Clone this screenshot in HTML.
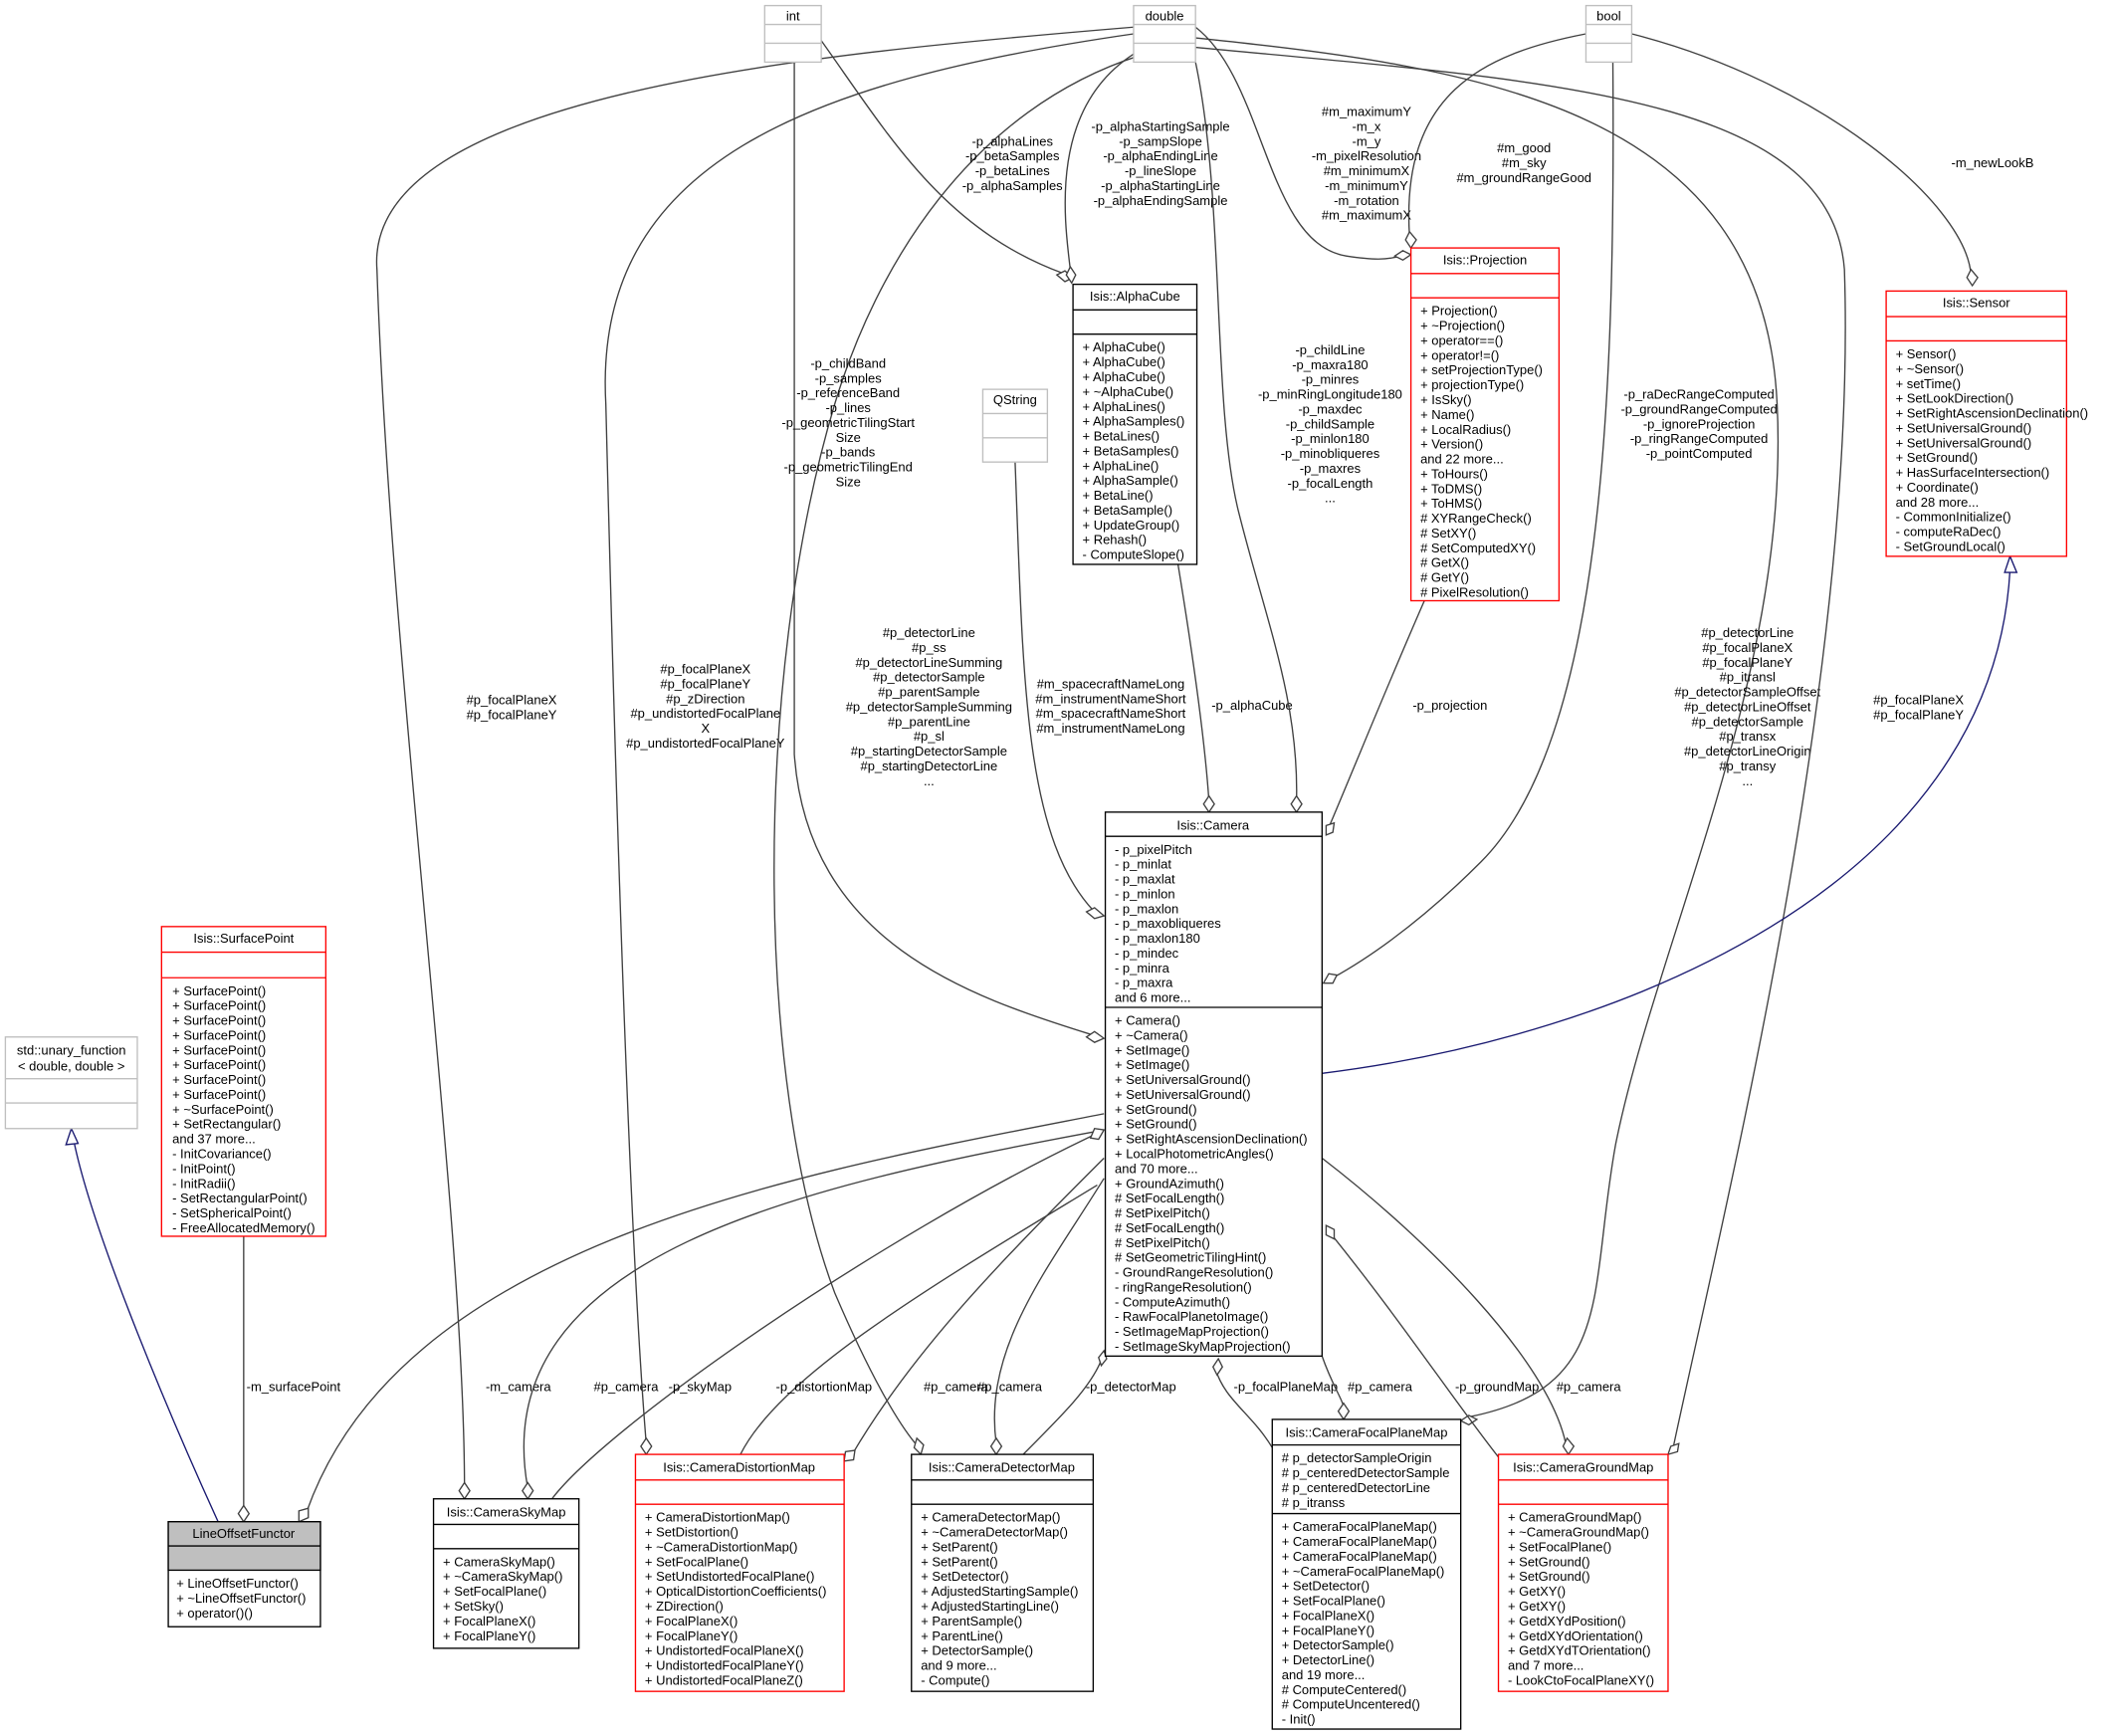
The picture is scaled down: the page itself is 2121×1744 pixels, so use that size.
<!DOCTYPE html>
<html><head><meta charset="utf-8"><style>
html,body{margin:0;padding:0;background:#fff;}
svg{display:block;}
text{font-family:"Liberation Sans",sans-serif;font-size:9.6px;fill:#000;}
.c{text-anchor:middle;}
.e{fill:none;stroke:#404040;stroke-width:1;}
.n{fill:none;stroke:#191970;stroke-width:1;}
.d{fill:#fff;stroke:#404040;stroke-width:1;}
.bk{fill:#fff;stroke:#000;stroke-width:1;}
.rd{fill:#fff;stroke:#ff0000;stroke-width:1;}
.gr{fill:#fff;stroke:#bfbfbf;stroke-width:1;}
</style></head><body>
<svg width="2121" height="1744" viewBox="0 0 1568 1289" xmlns="http://www.w3.org/2000/svg">
<rect width="1568" height="1289" fill="#fff"/>

<!-- edges -->
<g>
<path class="n" d="M162,1130 C130,1060 70,920 55,848"/>
<polygon points="53,838 49,850 58,849" fill="#fff" stroke="#191970"/>
<path class="e" d="M181,918 L181,1118"/>
<polygon class="d" points="181,1130 177,1124 181,1118 185,1124"/>
<text class="c" x="218" y="1033">-m_surfacePoint</text>
<path class="e" d="M820,827 C600,870 300,920 228,1122"/>
<polygon class="d" points="222,1130 222,1122 229,1120 229,1127"/>
<text class="c" x="385" y="1033">-m_camera</text>
<path class="e" d="M815,840 C600,880 360,930 392,1105"/>
<polygon class="d" points="392,1113 388,1107 392,1101 396,1107"/>
<text class="c" x="465" y="1033">#p_camera</text>
<path class="e" d="M410,1113 C450,1060 650,920 812,843"/>
<polygon class="d" points="820,839 813,838 810,845 816,846"/>
<text class="c" x="520" y="1033">-p_skyMap</text>
<path class="e" d="M842,20 C600,40 270,70 280,200 C290,500 345,900 345,1105"/>
<polygon class="d" points="345,1113 341,1107 345,1101 349,1107"/>
<text class="c" x="380" y="523">#p_focalPlaneX</text><text class="c" x="380" y="534">#p_focalPlaneY</text>
<path class="e" d="M842,25 C600,60 440,120 450,300 C460,700 470,950 480,1072"/>
<polygon class="d" points="480,1080 476,1074 480,1068 484,1074"/>
<g class="c"><text class="c" x="524" y="500">#p_focalPlaneX</text><text class="c" x="524" y="511">#p_focalPlaneY</text><text class="c" x="524" y="522">#p_zDirection</text><text class="c" x="524" y="533">#p_undistortedFocalPlane</text><text class="c" x="524" y="544">X</text><text class="c" x="524" y="555">#p_undistortedFocalPlaneY</text></g>
<path class="e" d="M550,1080 C580,1020 700,950 815,880"/>
<text class="c" x="612" y="1033">-p_distortionMap</text>
<path class="e" d="M820,860 C750,930 680,1000 633,1080"/>
<polygon class="d" points="627,1085 628,1078 635,1077 634,1084"/>
<text class="c" x="710" y="1033">#p_camera</text>
<path class="e" d="M850,40 C720,80 650,200 620,300 C560,500 560,800 620,960 C650,1030 670,1060 680,1072"/>
<polygon class="d" points="684,1080 679,1075 681,1068 686,1073"/>
<g><text class="c" x="690" y="473">#p_detectorLine</text><text class="c" x="690" y="484">#p_ss</text><text class="c" x="690" y="495">#p_detectorLineSumming</text><text class="c" x="690" y="506">#p_detectorSample</text><text class="c" x="690" y="517">#p_parentSample</text><text class="c" x="690" y="528">#p_detectorSampleSumming</text><text class="c" x="690" y="539">#p_parentLine</text><text class="c" x="690" y="550">#p_sl</text><text class="c" x="690" y="561">#p_startingDetectorSample</text><text class="c" x="690" y="572">#p_startingDetectorLine</text><text class="c" x="690" y="583">...</text></g>
<path class="e" d="M820,875 C780,940 730,1000 740,1072"/>
<polygon class="d" points="740,1080 736,1074 740,1068 744,1074"/>
<text class="c" x="750" y="1033">#p_camera</text>
<path class="e" d="M760,1080 C790,1050 810,1030 818,1010"/>
<polygon class="d" points="820,1003 816,1008 818,1014 822,1009"/>
<text class="c" x="840" y="1033">-p_detectorMap</text>
<path class="e" d="M590,46 L590,560 C600,700 720,740 810,768"/>
<polygon class="d" points="820,771 813,766 807,770 813,774"/>
<g><text class="c" x="630" y="273">-p_childBand</text><text class="c" x="630" y="284">-p_samples</text><text class="c" x="630" y="295">-p_referenceBand</text><text class="c" x="630" y="306">-p_lines</text><text class="c" x="630" y="317">-p_geometricTilingStart</text><text class="c" x="630" y="328">Size</text><text class="c" x="630" y="339">-p_bands</text><text class="c" x="630" y="350">-p_geometricTilingEnd</text><text class="c" x="630" y="361">Size</text></g>
<path class="e" d="M610,30 C660,100 700,170 790,203"/>
<polygon class="d" points="797,206 791,201 785,204 791,209"/>
<path class="e" d="M842,40 C780,80 790,160 795,200"/>
<polygon class="d" points="796,210 792,204 795,198 799,204"/>
<g><text class="c" x="752" y="108">-p_alphaLines</text><text class="c" x="752" y="119">-p_betaSamples</text><text class="c" x="752" y="130">-p_betaLines</text><text class="c" x="752" y="141">-p_alphaSamples</text></g>
<g><text class="c" x="862" y="97">-p_alphaStartingSample</text><text class="c" x="862" y="108">-p_sampSlope</text><text class="c" x="862" y="119">-p_alphaEndingLine</text><text class="c" x="862" y="130">-p_lineSlope</text><text class="c" x="862" y="141">-p_alphaStartingLine</text><text class="c" x="862" y="152">-p_alphaEndingSample</text></g>
<path class="e" d="M875,419 C885,480 895,550 898,595"/>
<polygon class="d" points="898,603 894,597 898,591 902,597"/>
<text class="c" x="930" y="527">-p_alphaCube</text>
<path class="e" d="M888,46 C910,150 900,300 920,380 C940,460 965,520 963,595"/>
<polygon class="d" points="963,603 959,597 963,591 967,597"/>
<g><text class="c" x="988" y="263">-p_childLine</text><text class="c" x="988" y="274">-p_maxra180</text><text class="c" x="988" y="285">-p_minres</text><text class="c" x="988" y="296">-p_minRingLongitude180</text><text class="c" x="988" y="307">-p_maxdec</text><text class="c" x="988" y="318">-p_childSample</text><text class="c" x="988" y="329">-p_minlon180</text><text class="c" x="988" y="340">-p_minobliqueres</text><text class="c" x="988" y="351">-p_maxres</text><text class="c" x="988" y="362">-p_focalLength</text><text class="c" x="988" y="373">...</text></g>
<path class="e" d="M754,343 C760,500 760,620 812,676"/>
<polygon class="d" points="820,680 813,674 807,677 813,682"/>
<g><text class="c" x="825" y="511">#m_spacecraftNameLong</text><text class="c" x="825" y="522">#m_instrumentNameShort</text><text class="c" x="825" y="533">#m_spacecraftNameShort</text><text class="c" x="825" y="544">#m_instrumentNameLong</text></g>
<path class="e" d="M1058,446 C1030,510 1010,560 988,612"/>
<polygon class="d" points="985,620 985,613 991,611 990,618"/>
<text class="c" x="1077" y="527">-p_projection</text>
<path class="e" d="M888,20 C940,60 940,180 1000,190 C1020,193 1030,193 1040,190"/>
<polygon class="d" points="1048,189 1042,186 1036,190 1042,193"/>
<g><text class="c" x="1015" y="86">#m_maximumY</text><text class="c" x="1015" y="97">-m_x</text><text class="c" x="1015" y="108">-m_y</text><text class="c" x="1015" y="119">-m_pixelResolution</text><text class="c" x="1015" y="130">#m_minimumX</text><text class="c" x="1015" y="141">-m_minimumY</text><text class="c" x="1015" y="152">-m_rotation</text><text class="c" x="1015" y="163">#m_maximumX</text></g>
<path class="e" d="M1178,25 C1100,40 1040,70 1047,176"/>
<polygon class="d" points="1048,184 1044,178 1047,172 1052,178"/>
<g><text class="c" x="1132" y="113">#m_good</text><text class="c" x="1132" y="124">#m_sky</text><text class="c" x="1132" y="135">#m_groundRangeGood</text></g>
<path class="e" d="M1198,46 C1200,300 1190,550 1100,640 C1050,690 1010,715 990,726"/>
<polygon class="d" points="983,730 990,730 993,724 987,723"/>
<g><text class="c" x="1262" y="296">-p_raDecRangeComputed</text><text class="c" x="1262" y="307">-p_groundRangeComputed</text><text class="c" x="1262" y="318">-p_ignoreProjection</text><text class="c" x="1262" y="329">-p_ringRangeComputed</text><text class="c" x="1262" y="340">-p_pointComputed</text></g>
<path class="e" d="M888,28 C1100,50 1310,80 1320,300 C1330,500 1230,700 1200,850 C1180,960 1200,1030 1092,1052"/>
<polygon class="d" points="1085,1055 1091,1058 1097,1054 1091,1051"/>
<g><text class="c" x="1298" y="473">#p_detectorLine</text><text class="c" x="1298" y="484">#p_focalPlaneX</text><text class="c" x="1298" y="495">#p_focalPlaneY</text><text class="c" x="1298" y="506">#p_itransl</text><text class="c" x="1298" y="517">#p_detectorSampleOffset</text><text class="c" x="1298" y="528">#p_detectorLineOffset</text><text class="c" x="1298" y="539">#p_detectorSample</text><text class="c" x="1298" y="550">#p_transx</text><text class="c" x="1298" y="561">#p_detectorLineOrigin</text><text class="c" x="1298" y="572">#p_transy</text><text class="c" x="1298" y="583">...</text></g>
<path class="e" d="M888,35 C1150,60 1360,70 1370,200 C1380,500 1280,900 1243,1074"/>
<polygon class="d" points="1239,1080 1241,1074 1247,1072 1246,1078"/>
<text class="c" x="1425" y="523">#p_focalPlaneX</text><text class="c" x="1425" y="534">#p_focalPlaneY</text>
<path class="e" d="M1212,25 C1350,60 1460,150 1464,204"/>
<polygon class="d" points="1465,212 1461,206 1464,200 1469,206"/>
<text class="c" x="1480" y="124">-m_newLookB</text>
<path class="n" d="M982,797 C1200,770 1480,660 1493,423"/>
<polygon points="1493,413 1489,425 1498,425" fill="#fff" stroke="#191970"/>
<path class="e" d="M903,1017 C910,1040 930,1050 945,1075"/>
<polygon class="d" points="905,1009 901,1015 904,1021 908,1015"/>
<text class="c" x="955" y="1033">-p_focalPlaneMap</text>
<path class="e" d="M982,1007 C990,1030 998,1040 998,1046"/>
<polygon class="d" points="998,1054 994,1048 998,1042 1002,1048"/>
<text class="c" x="1025" y="1033">#p_camera</text>
<path class="e" d="M990,918 C1040,980 1080,1040 1113,1082"/>
<polygon class="d" points="985,910 985,917 991,920 991,913"/>
<text class="c" x="1112" y="1033">-p_groundMap</text>
<path class="e" d="M982,860 C1060,920 1150,1010 1163,1072"/>
<polygon class="d" points="1165,1080 1161,1074 1164,1068 1169,1074"/>
<text class="c" x="1180" y="1033">#p_camera</text>
</g>

<!-- nodes -->
<!-- int -->
<rect class="gr" x="568" y="4" width="42" height="42"/><line x1="568" y1="18" x2="610" y2="18" stroke="#bfbfbf"/><line x1="568" y1="32" x2="610" y2="32" stroke="#bfbfbf"/>
<text class="c" x="589" y="15">int</text>
<!-- double -->
<rect class="gr" x="842" y="4" width="46" height="42"/><line x1="842" y1="18" x2="888" y2="18" stroke="#bfbfbf"/><line x1="842" y1="32" x2="888" y2="32" stroke="#bfbfbf"/>
<text class="c" x="865" y="15">double</text>
<!-- bool -->
<rect class="gr" x="1178" y="4" width="34" height="42"/><line x1="1178" y1="18" x2="1212" y2="18" stroke="#bfbfbf"/><line x1="1178" y1="32" x2="1212" y2="32" stroke="#bfbfbf"/>
<text class="c" x="1195" y="15">bool</text>
<!-- QString -->
<rect class="gr" x="730" y="289" width="48" height="54"/><line x1="730" y1="307" x2="778" y2="307" stroke="#bfbfbf"/><line x1="730" y1="325" x2="778" y2="325" stroke="#bfbfbf"/>
<text class="c" x="754" y="300">QString</text>
<!-- unary_function -->
<rect class="gr" x="4" y="770" width="98" height="68"/><line x1="4" y1="801" x2="102" y2="801" stroke="#bfbfbf"/><line x1="4" y1="819" x2="102" y2="819" stroke="#bfbfbf"/>
<text class="c" x="53" y="783">std::unary_function</text><text class="c" x="53" y="795">&lt; double, double &gt;</text>

<!-- LineOffsetFunctor -->
<rect x="125" y="1130" width="113" height="78" fill="#fff" stroke="#000"/>
<rect x="125" y="1130" width="113" height="36" fill="#bfbfbf" stroke="#000"/>
<line x1="125" y1="1148" x2="238" y2="1148" stroke="#000"/>
<text class="c" x="181" y="1142">LineOffsetFunctor</text>
<text x="131" y="1179">+ LineOffsetFunctor()</text><text x="131" y="1190">+ ~LineOffsetFunctor()</text><text x="131" y="1201">+ operator()()</text>

<!-- SurfacePoint -->
<rect class="rd" x="120" y="688" width="122" height="230"/><line x1="120" y1="707" x2="242" y2="707" stroke="red"/><line x1="120" y1="726" x2="242" y2="726" stroke="red"/>
<text class="c" x="181" y="700">Isis::SurfacePoint</text>
<g><text x="128" y="739">+ SurfacePoint()</text><text x="128" y="750">+ SurfacePoint()</text><text x="128" y="761">+ SurfacePoint()</text><text x="128" y="772">+ SurfacePoint()</text><text x="128" y="783">+ SurfacePoint()</text><text x="128" y="794">+ SurfacePoint()</text><text x="128" y="805">+ SurfacePoint()</text><text x="128" y="816">+ SurfacePoint()</text><text x="128" y="827">+ ~SurfacePoint()</text><text x="128" y="838">+ SetRectangular()</text><text x="128" y="849">and 37 more...</text><text x="128" y="860">- InitCovariance()</text><text x="128" y="871">- InitPoint()</text><text x="128" y="882">- InitRadii()</text><text x="128" y="893">- SetRectangularPoint()</text><text x="128" y="904">- SetSphericalPoint()</text><text x="128" y="915">- FreeAllocatedMemory()</text></g>

<!-- CameraSkyMap -->
<rect class="bk" x="322" y="1113" width="108" height="111"/><line x1="322" y1="1132" x2="430" y2="1132" stroke="#000"/><line x1="322" y1="1150" x2="430" y2="1150" stroke="#000"/>
<text class="c" x="376" y="1126">Isis::CameraSkyMap</text>
<g><text x="329" y="1163">+ CameraSkyMap()</text><text x="329" y="1174">+ ~CameraSkyMap()</text><text x="329" y="1185">+ SetFocalPlane()</text><text x="329" y="1196">+ SetSky()</text><text x="329" y="1207">+ FocalPlaneX()</text><text x="329" y="1218">+ FocalPlaneY()</text></g>

<!-- CameraDistortionMap -->
<rect class="rd" x="472" y="1080" width="155" height="176"/><line x1="472" y1="1099" x2="627" y2="1099" stroke="red"/><line x1="472" y1="1117" x2="627" y2="1117" stroke="red"/>
<text class="c" x="549" y="1093">Isis::CameraDistortionMap</text>
<g><text x="479" y="1130">+ CameraDistortionMap()</text><text x="479" y="1141">+ SetDistortion()</text><text x="479" y="1152">+ ~CameraDistortionMap()</text><text x="479" y="1163">+ SetFocalPlane()</text><text x="479" y="1174">+ SetUndistortedFocalPlane()</text><text x="479" y="1185">+ OpticalDistortionCoefficients()</text><text x="479" y="1196">+ ZDirection()</text><text x="479" y="1207">+ FocalPlaneX()</text><text x="479" y="1218">+ FocalPlaneY()</text><text x="479" y="1229">+ UndistortedFocalPlaneX()</text><text x="479" y="1240">+ UndistortedFocalPlaneY()</text><text x="479" y="1251">+ UndistortedFocalPlaneZ()</text></g>

<!-- CameraDetectorMap -->
<rect class="bk" x="677" y="1080" width="135" height="176"/><line x1="677" y1="1099" x2="812" y2="1099" stroke="#000"/><line x1="677" y1="1117" x2="812" y2="1117" stroke="#000"/>
<text class="c" x="744" y="1093">Isis::CameraDetectorMap</text>
<g><text x="684" y="1130">+ CameraDetectorMap()</text><text x="684" y="1141">+ ~CameraDetectorMap()</text><text x="684" y="1152">+ SetParent()</text><text x="684" y="1163">+ SetParent()</text><text x="684" y="1174">+ SetDetector()</text><text x="684" y="1185">+ AdjustedStartingSample()</text><text x="684" y="1196">+ AdjustedStartingLine()</text><text x="684" y="1207">+ ParentSample()</text><text x="684" y="1218">+ ParentLine()</text><text x="684" y="1229">+ DetectorSample()</text><text x="684" y="1240">and 9 more...</text><text x="684" y="1251">- Compute()</text></g>

<!-- CameraFocalPlaneMap -->
<rect class="bk" x="945" y="1054" width="140" height="230"/><line x1="945" y1="1073" x2="1085" y2="1073" stroke="#000"/><line x1="945" y1="1124" x2="1085" y2="1124" stroke="#000"/>
<text class="c" x="1015" y="1067">Isis::CameraFocalPlaneMap</text>
<g><text x="952" y="1086"># p_detectorSampleOrigin</text><text x="952" y="1097"># p_centeredDetectorSample</text><text x="952" y="1108"># p_centeredDetectorLine</text><text x="952" y="1119"># p_itranss</text>
<text x="952" y="1137">+ CameraFocalPlaneMap()</text><text x="952" y="1148">+ CameraFocalPlaneMap()</text><text x="952" y="1159">+ CameraFocalPlaneMap()</text><text x="952" y="1170">+ ~CameraFocalPlaneMap()</text><text x="952" y="1181">+ SetDetector()</text><text x="952" y="1192">+ SetFocalPlane()</text><text x="952" y="1203">+ FocalPlaneX()</text><text x="952" y="1214">+ FocalPlaneY()</text><text x="952" y="1225">+ DetectorSample()</text><text x="952" y="1236">+ DetectorLine()</text><text x="952" y="1247">and 19 more...</text><text x="952" y="1258"># ComputeCentered()</text><text x="952" y="1269"># ComputeUncentered()</text><text x="952" y="1280">- Init()</text></g>

<!-- CameraGroundMap -->
<rect class="rd" x="1113" y="1080" width="126" height="176"/><line x1="1113" y1="1099" x2="1239" y2="1099" stroke="red"/><line x1="1113" y1="1117" x2="1239" y2="1117" stroke="red"/>
<text class="c" x="1176" y="1093">Isis::CameraGroundMap</text>
<g><text x="1120" y="1130">+ CameraGroundMap()</text><text x="1120" y="1141">+ ~CameraGroundMap()</text><text x="1120" y="1152">+ SetFocalPlane()</text><text x="1120" y="1163">+ SetGround()</text><text x="1120" y="1174">+ SetGround()</text><text x="1120" y="1185">+ GetXY()</text><text x="1120" y="1196">+ GetXY()</text><text x="1120" y="1207">+ GetdXYdPosition()</text><text x="1120" y="1218">+ GetdXYdOrientation()</text><text x="1120" y="1229">+ GetdXYdTOrientation()</text><text x="1120" y="1240">and 7 more...</text><text x="1120" y="1251">- LookCtoFocalPlaneXY()</text></g>

<!-- Camera -->
<rect class="bk" x="821" y="603" width="161" height="404"/><line x1="821" y1="621" x2="982" y2="621" stroke="#000"/><line x1="821" y1="748" x2="982" y2="748" stroke="#000"/>
<text class="c" x="901" y="616">Isis::Camera</text>
<g><text x="828" y="634">- p_pixelPitch</text><text x="828" y="645">- p_minlat</text><text x="828" y="656">- p_maxlat</text><text x="828" y="667">- p_minlon</text><text x="828" y="678">- p_maxlon</text><text x="828" y="689">- p_maxobliqueres</text><text x="828" y="700">- p_maxlon180</text><text x="828" y="711">- p_mindec</text><text x="828" y="722">- p_minra</text><text x="828" y="733">- p_maxra</text><text x="828" y="744">and 6 more...</text>
<text x="828" y="761">+ Camera()</text><text x="828" y="772">+ ~Camera()</text><text x="828" y="783">+ SetImage()</text><text x="828" y="794">+ SetImage()</text><text x="828" y="805">+ SetUniversalGround()</text><text x="828" y="816">+ SetUniversalGround()</text><text x="828" y="827">+ SetGround()</text><text x="828" y="838">+ SetGround()</text><text x="828" y="849">+ SetRightAscensionDeclination()</text><text x="828" y="860">+ LocalPhotometricAngles()</text><text x="828" y="871">and 70 more...</text><text x="828" y="882">+ GroundAzimuth()</text><text x="828" y="893"># SetFocalLength()</text><text x="828" y="904"># SetPixelPitch()</text><text x="828" y="915"># SetFocalLength()</text><text x="828" y="926"># SetPixelPitch()</text><text x="828" y="937"># SetGeometricTilingHint()</text><text x="828" y="948">- GroundRangeResolution()</text><text x="828" y="959">- ringRangeResolution()</text><text x="828" y="970">- ComputeAzimuth()</text><text x="828" y="981">- RawFocalPlanetoImage()</text><text x="828" y="992">- SetImageMapProjection()</text><text x="828" y="1003">- SetImageSkyMapProjection()</text></g>

<!-- AlphaCube -->
<rect class="bk" x="797" y="211" width="92" height="208"/><line x1="797" y1="230" x2="889" y2="230" stroke="#000"/><line x1="797" y1="248" x2="889" y2="248" stroke="#000"/>
<text class="c" x="843" y="223">Isis::AlphaCube</text>
<g><text x="804" y="261">+ AlphaCube()</text><text x="804" y="272">+ AlphaCube()</text><text x="804" y="283">+ AlphaCube()</text><text x="804" y="294">+ ~AlphaCube()</text><text x="804" y="305">+ AlphaLines()</text><text x="804" y="316">+ AlphaSamples()</text><text x="804" y="327">+ BetaLines()</text><text x="804" y="338">+ BetaSamples()</text><text x="804" y="349">+ AlphaLine()</text><text x="804" y="360">+ AlphaSample()</text><text x="804" y="371">+ BetaLine()</text><text x="804" y="382">+ BetaSample()</text><text x="804" y="393">+ UpdateGroup()</text><text x="804" y="404">+ Rehash()</text><text x="804" y="415">- ComputeSlope()</text></g>

<!-- Projection -->
<rect class="rd" x="1048" y="184" width="110" height="262"/><line x1="1048" y1="203" x2="1158" y2="203" stroke="red"/><line x1="1048" y1="221" x2="1158" y2="221" stroke="red"/>
<text class="c" x="1103" y="196">Isis::Projection</text>
<g><text x="1055" y="234">+ Projection()</text><text x="1055" y="245">+ ~Projection()</text><text x="1055" y="256">+ operator==()</text><text x="1055" y="267">+ operator!=()</text><text x="1055" y="278">+ setProjectionType()</text><text x="1055" y="289">+ projectionType()</text><text x="1055" y="300">+ IsSky()</text><text x="1055" y="311">+ Name()</text><text x="1055" y="322">+ LocalRadius()</text><text x="1055" y="333">+ Version()</text><text x="1055" y="344">and 22 more...</text><text x="1055" y="355">+ ToHours()</text><text x="1055" y="366">+ ToDMS()</text><text x="1055" y="377">+ ToHMS()</text><text x="1055" y="388"># XYRangeCheck()</text><text x="1055" y="399"># SetXY()</text><text x="1055" y="410"># SetComputedXY()</text><text x="1055" y="421"># GetX()</text><text x="1055" y="432"># GetY()</text><text x="1055" y="443"># PixelResolution()</text></g>

<!-- Sensor -->
<rect class="rd" x="1401" y="216" width="134" height="197"/><line x1="1401" y1="235" x2="1535" y2="235" stroke="red"/><line x1="1401" y1="253" x2="1535" y2="253" stroke="red"/>
<text class="c" x="1468" y="228">Isis::Sensor</text>
<g><text x="1408" y="266">+ Sensor()</text><text x="1408" y="277">+ ~Sensor()</text><text x="1408" y="288">+ setTime()</text><text x="1408" y="299">+ SetLookDirection()</text><text x="1408" y="310">+ SetRightAscensionDeclination()</text><text x="1408" y="321">+ SetUniversalGround()</text><text x="1408" y="332">+ SetUniversalGround()</text><text x="1408" y="343">+ SetGround()</text><text x="1408" y="354">+ HasSurfaceIntersection()</text><text x="1408" y="365">+ Coordinate()</text><text x="1408" y="376">and 28 more...</text><text x="1408" y="387">- CommonInitialize()</text><text x="1408" y="398">- computeRaDec()</text><text x="1408" y="409">- SetGroundLocal()</text></g>
</svg>
</body></html>
